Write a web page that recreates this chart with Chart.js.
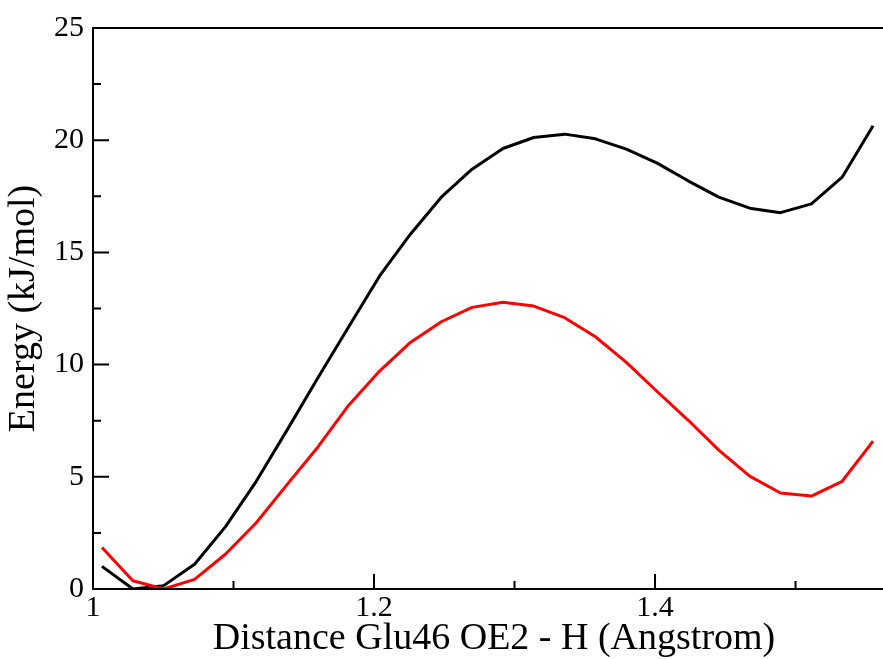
<!DOCTYPE html>
<html><head><meta charset="utf-8">
<script src="https://cdn.jsdelivr.net/npm/chart.js@4.4.1/dist/chart.umd.min.js"></script>
<style>
html,body{margin:0;padding:0;overflow:hidden;background:#fff;width:883px;height:659px}
#wrap{position:absolute;left:0;top:0;width:895px;height:659px}
</style>
</head><body><div id="wrap"><canvas id="c" width="895" height="659"></canvas></div>
<script>
const distance = [1.0064,1.0284,1.0503,1.0723,1.0942,1.1162,1.1381,1.1601,1.1820,1.2040,1.2259,1.2479,1.2698,
  1.2918,1.3137,1.3357,1.3576,1.3796,1.4015,1.4235,1.4454,1.4674,1.4893,1.5113,1.5332,1.5552];
const energyBlack = [1.01,0.0,0.15,1.10,2.77,4.8,7.08,9.41,11.69,13.95,15.81,17.46,18.71,
  19.63,20.12,20.27,20.06,19.6,18.98,18.19,17.46,16.97,16.77,17.16,18.35,20.64];
const energyRed = [1.85,0.37,0.0,0.43,1.55,2.95,4.65,6.33,8.19,9.71,10.99,11.91,12.55,
  12.78,12.61,12.09,11.24,10.1,8.8,7.53,6.19,5.03,4.28,4.14,4.8,6.59];
const xTickValues = [1, 1.1, 1.2, 1.3, 1.4, 1.5];
const xTickLabels = ['1', '', '1.2', '', '1.4', ''];
const yTickValues = [0, 2.5, 5, 7.5, 10, 12.5, 15, 17.5, 20, 22.5, 25];
const yTickLabels = ['0', '', '5', '', '10', '', '15', '', '20', '', '25'];
const xTitle = 'Distance Glu46 OE2 - H (Angstrom)';
const yTitle = 'Energy (kJ/mol)';

const FONT = "'Liberation Serif', 'Times New Roman', serif";

const frame = {
  id: 'frame',
  afterDatasetsDraw(chart) {
    const {ctx, chartArea: a, scales: {x, y}} = chart;
    ctx.save();
    ctx.strokeStyle = '#000';
    ctx.lineWidth = 2;
    ctx.beginPath();
    ctx.moveTo(a.left - 1, a.top); ctx.lineTo(a.right + 5, a.top);
    ctx.moveTo(a.left, a.top - 1); ctx.lineTo(a.left, a.bottom + 1);
    ctx.moveTo(a.left - 1, a.bottom); ctx.lineTo(a.right + 5, a.bottom);
    xTickValues.forEach((v, i) => {
      const px = x.getPixelForValue(v);
      const len = xTickLabels[i] ? 15 : 8;
      ctx.moveTo(px, a.bottom); ctx.lineTo(px, a.bottom - len);
    });
    yTickValues.forEach((v, i) => {
      const py = y.getPixelForValue(v);
      const len = yTickLabels[i] ? 16 : 8;
      ctx.moveTo(a.left, py); ctx.lineTo(a.left + len, py);
    });
    ctx.stroke();
    ctx.restore();
  }
};

new Chart(document.getElementById('c'), {
  type: 'line',
  data: {
    datasets: [
      {data: distance.map((d, i) => ({x: d, y: energyBlack[i]})), borderColor: '#000000', borderWidth: 3, order: 2},
      {data: distance.map((d, i) => ({x: d, y: energyRed[i]})), borderColor: '#ff0000', borderWidth: 3, order: 1}
    ]
  },
  options: {
    responsive: false,
    animation: false,
    devicePixelRatio: 1,
    layout: {padding: {top: 28, left: 0, right: 0, bottom: 0}},
    elements: {point: {radius: 0}, line: {tension: 0, borderJoinStyle: 'round', fill: false}},
    plugins: {legend: {display: false}, tooltip: {enabled: false}},
    scales: {
      x: {
        type: 'linear', min: 1, max: 1.5708,
        grid: {display: false, drawTicks: false},
        border: {display: false},
        afterBuildTicks: s => { s.ticks = xTickValues.map(v => ({value: v})); },
        afterFit: s => { s.height = 70; },
        ticks: {autoSkip: false, maxRotation: 0, padding: 1, color: '#000',
          font: {family: FONT, size: 30, lineHeight: 1.2},
          callback: (v, i) => xTickLabels[i]},
        title: {display: true, text: xTitle, color: '#000', padding: {top: 0, bottom: 0},
          font: {family: FONT, size: 38, lineHeight: 1.05}}
      },
      y: {
        type: 'linear', min: 0, max: 25,
        grid: {display: false, drawTicks: false},
        border: {display: false},
        afterBuildTicks: s => { s.ticks = yTickValues.map(v => ({value: v})); },
        afterFit: s => { s.width = 93; },
        ticks: {autoSkip: false, padding: 9, color: '#000',
          font: {family: FONT, size: 30, lineHeight: 1.2},
          callback: (v, i) => yTickLabels[i]},
        title: {display: true, text: yTitle, color: '#000', padding: {top: 4, bottom: 0},
          font: {family: FONT, size: 38, lineHeight: 1.05}}
      }
    }
  },
  plugins: [frame]
});
</script>
</body></html>
